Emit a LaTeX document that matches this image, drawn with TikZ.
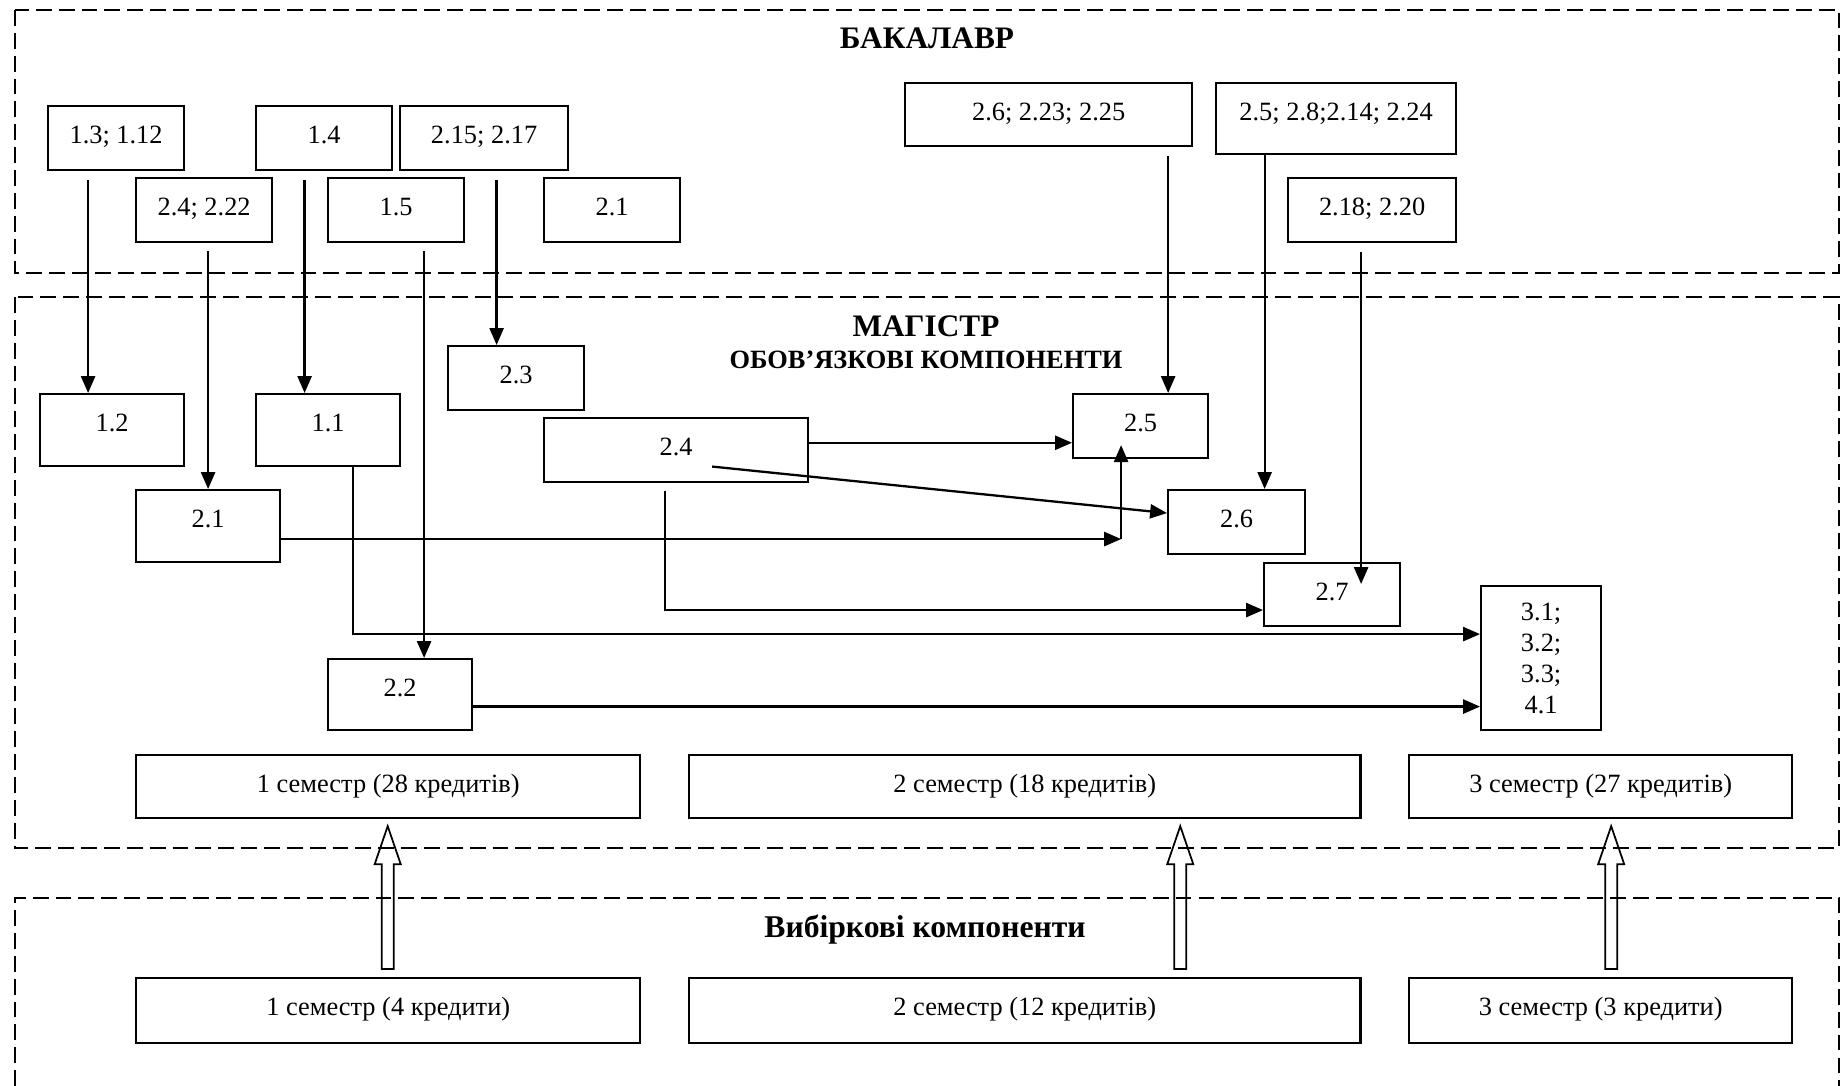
\documentclass[tikz,border=0pt]{standalone}
\usepackage{fontspec}
\setmainfont{Liberation Serif}
\usetikzlibrary{arrows.meta,calc}

\tikzset{
  blk/.style={draw, line width=0.6pt, inner sep=0pt, anchor=north west,
    text height=0.37cm, font=\fontsize{7.5}{9}\selectfont},
  region/.style={line width=0.5pt, dash pattern=on 4.5pt off 2pt},
  arr/.style={line width=0.65pt, -{Triangle[length=4.8pt,width=4pt]}},
  title/.style={anchor=base, font=\bfseries\fontsize{8.9}{10}\selectfont},
}

% hollow arrow from #1 (bottom) up to #2 (tip)
\newcommand\hollowup[2]{
  \draw[line width=0.5pt] ($(#1)+(-6,0)$) -- ($(#2)+(-6,38)$) -- ($(#2)+(-13,38)$)
    -- (#2) -- ($(#2)+(13,38)$) -- ($(#2)+(6,38)$) -- ($(#1)+(6,0)$) -- cycle;
}

\begin{document}
\begin{tikzpicture}[x=0.01cm, y=-0.01cm]
    \useasboundingbox (0,0) rectangle (1843,1086);

    \draw[region] (15,10) rectangle (1839,273);
    \draw[region] (15,297) rectangle (1839,848);
    \draw[region] (15,1086) |- (1839,898) -- (1839,1086);

    \node[title] (tbach) at (927,49) {БАКАЛАВР};
    \node[title] (tmag) at (926,337) {МАГІСТР};
    \node[title, font=\bfseries\fontsize{7.5}{8}\selectfont] (toblig) at (926,369) {ОБОВ’ЯЗКОВІ КОМПОНЕНТИ};
    \node[title, font=\bfseries\fontsize{9}{10}\selectfont] (tvyb) at (925,937) {Вибіркові компоненти};

    % bachelor
    \node[blk, minimum width=1.36cm, text depth=0.27cm] (b13) at (47,105) {1.3; 1.12};
    \node[blk, minimum width=1.36cm, text depth=0.27cm] (b14) at (255,105) {1.4};
    \node[blk, minimum width=1.68cm, text depth=0.27cm] (b215) at (399,105) {2.15; 2.17};
    \node[blk, minimum width=1.36cm, text depth=0.27cm] (b24) at (135,177) {2.4; 2.22};
    \node[blk, minimum width=1.36cm, text depth=0.27cm] (b15) at (327,177) {1.5};
    \node[blk, minimum width=1.36cm, text depth=0.27cm] (b21) at (543,177) {2.1};
    \node[blk, minimum width=2.87cm, text depth=0.26cm] (b26) at (904,82) {2.6; 2.23; 2.25};
    \node[blk, minimum width=2.40cm, text depth=0.34cm] (b25) at (1215,82) {2.5; 2.8;2.14; 2.24};
    \node[blk, minimum width=1.68cm, text depth=0.27cm] (b218) at (1287,177) {2.18; 2.20};

    % master
    \node[blk, minimum width=1.44cm, text depth=0.35cm] (m12) at (39,393) {1.2};
    \node[blk, minimum width=1.44cm, text depth=0.35cm] (m11) at (255,393) {1.1};
    \node[blk, minimum width=1.36cm, text depth=0.27cm] (m23) at (447,345) {2.3};
    \node[blk, minimum width=2.64cm, text depth=0.27cm] (m24) at (543,417) {2.4};
    \node[blk, minimum width=1.44cm, text depth=0.35cm] (m21) at (135,489) {2.1};
    \node[blk, minimum width=1.44cm, text depth=0.34cm] (m22) at (327,658) {2.2};
    \node[blk, minimum width=1.35cm, text depth=0.27cm] (m25) at (1072,393) {2.5};
    \node[blk, minimum width=1.37cm, text depth=0.27cm] (m26) at (1167,489) {2.6};
    \node[blk, minimum width=1.36cm, text depth=0.26cm] (m27) at (1263,562) {2.7};
    \node[blk, text height=, text depth=, minimum width=1.20cm, minimum height=1.44cm,
      align=center, font=\fontsize{7.5}{8.8}\selectfont] (m3) at (1480,585) {3.1;\\3.2;\\3.3;\\4.1};

    \node[blk, minimum width=5.04cm, text depth=0.26cm] (s1) at (135,754) {1 семестр (28 кредитів)};
    \node[blk, minimum width=6.71cm, text depth=0.26cm] (s2) at (688,754) {2 семестр (18 кредитів)};
    \node[blk, minimum width=3.83cm, text depth=0.26cm] (s3) at (1408,754) {3 семестр (27 кредитів)};

    % electives
    \node[blk, minimum width=5.04cm, text depth=0.28cm] (e1) at (135,977) {1 семестр (4 кредити)};
    \node[blk, minimum width=6.71cm, text depth=0.28cm] (e2) at (688,977) {2 семестр (12 кредитів)};
    \node[blk, minimum width=3.83cm, text depth=0.28cm] (e3) at (1408,977) {3 семестр (3 кредити)};

    % bachelor -> master
    \draw[arr] ([shift={(-28,9)}]b13.south) coordinate (a1) -- (a1 |- m12.north);
    \draw[arr] ([shift={(4,8)}]b24.south) coordinate (a2) -- (a2 |- m21.north);
    \draw[arr] ([shift={(-19.5,9)}]b14.south) coordinate (a3) -- (a3 |- m11.north);
    \draw[arr] ([shift={(28,8)}]b15.south) coordinate (a4) -- (a4 |- m22.north);
    \draw[arr] ([shift={(12.5,9)}]b215.south) coordinate (a5) -- (a5 |- m23.north);
    \draw[arr] ([shift={(119.5,9)}]b26.south) coordinate (a6) -- (a6 |- m25.north);
    \draw[arr] ([shift={(-71.5,0)}]b25.south) coordinate (a7) -- (a7 |- m26.north);
    \draw[arr] ([shift={(-11,9)}]b218.south) coordinate (a8) -- ($(a8 |- m27.north)+(0,22)$);

    % inside master
    \draw[arr] ([shift={(0,-7.3)}]m24.east) coordinate (a9) -- (a9 -| m25.west);
    \draw[arr] ([shift={(36,16.5)}]m24.center) -- ([shift={(0,-9)}]m26.west);
    \coordinate (c25) at ([shift={(-19.5,0)}]m25.south);
    \draw[arr] ([shift={(0,13)}]m21.east) coordinate (a11) -- (a11 -| c25);
    \draw[arr] (a11 -| c25) -- ($(c25)+(0,-14)$);
    \draw[arr] ([shift={(-11,8)}]m24.south) |- ([shift={(0,15.5)}]m27.west);
    \draw[arr] ([shift={(25,0)}]m11.south) |- ([shift={(0,-24)}]m3.west);
    \draw[arr] ([shift={(0,12)}]m22.east) coordinate (a14) -- (a14 -| m3.west);

    % electives -> semesters
    \coordinate (h1s) at ([shift={(-0.5,-8)}]e1.north);
    \coordinate (h1t) at ([shift={(-0.5,7)}]s1.south);
    \coordinate (h2s) at ([shift={(155.5,-8)}]e2.north);
    \coordinate (h2t) at ([shift={(155.5,7)}]s2.south);
    \coordinate (h3s) at ([shift={(10.5,-8)}]e3.north);
    \coordinate (h3t) at ([shift={(10.5,7)}]s3.south);
    \hollowup{h1s}{h1t}
    \hollowup{h2s}{h2t}
    \hollowup{h3s}{h3t}

\end{tikzpicture}
\end{document}
